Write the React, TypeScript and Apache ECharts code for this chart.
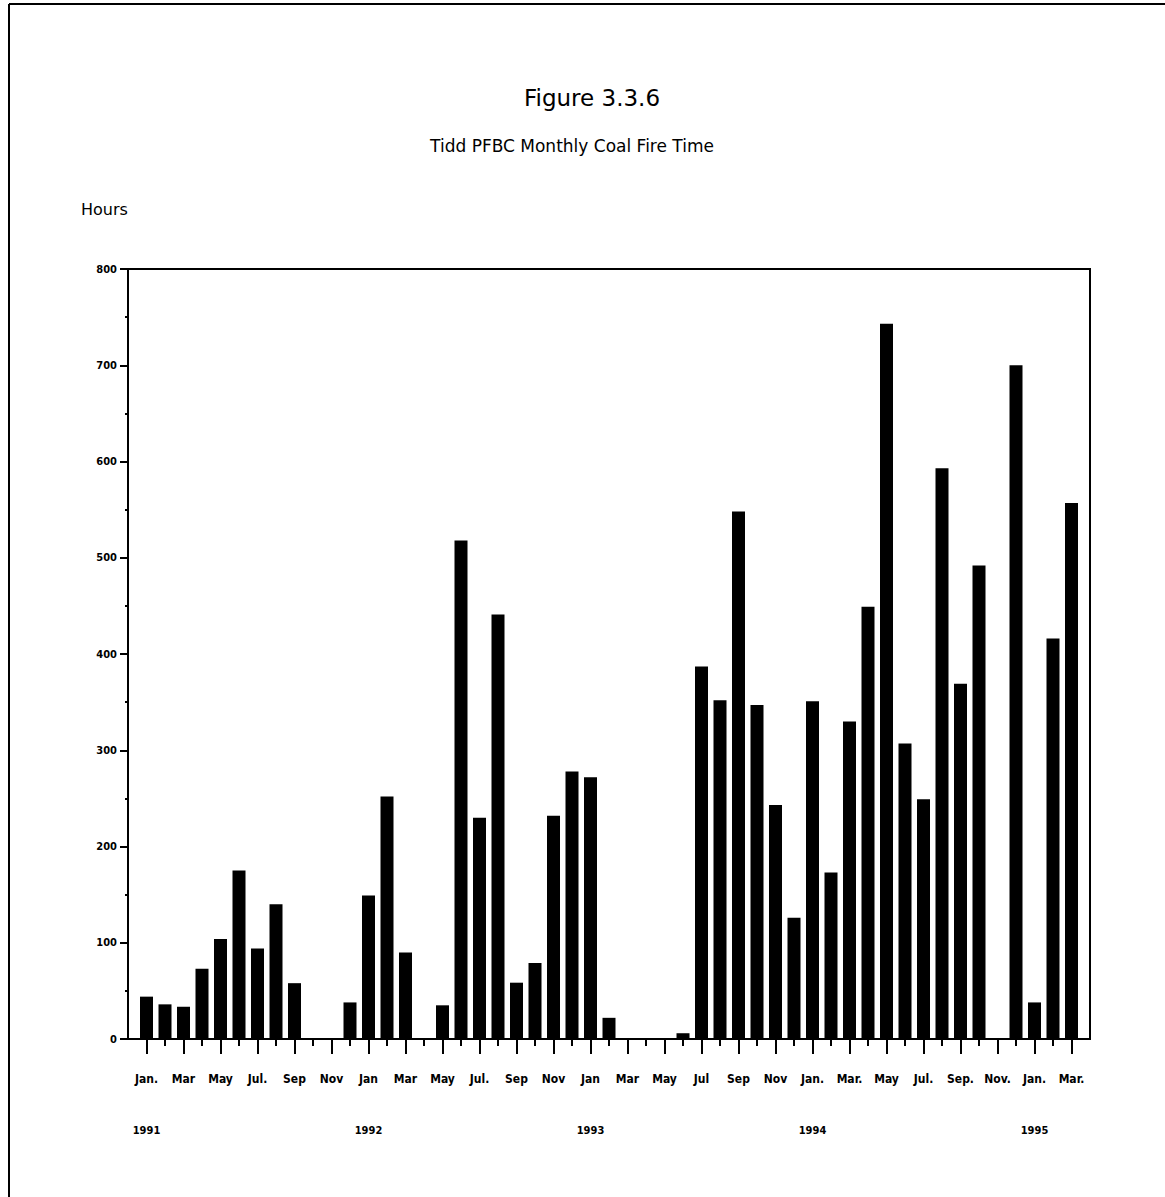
import { useEffect, useRef } from 'react';
import * as echarts from 'echarts';

// Months Jan 1991 .. Mar 1995 (51 months)
const categories = [
  '1991-01', '1991-02', '1991-03', '1991-04', '1991-05', '1991-06', '1991-07', '1991-08', '1991-09', '1991-10', '1991-11', '1991-12',
  '1992-01', '1992-02', '1992-03', '1992-04', '1992-05', '1992-06', '1992-07', '1992-08', '1992-09', '1992-10', '1992-11', '1992-12',
  '1993-01', '1993-02', '1993-03', '1993-04', '1993-05', '1993-06', '1993-07', '1993-08', '1993-09', '1993-10', '1993-11', '1993-12',
  '1994-01', '1994-02', '1994-03', '1994-04', '1994-05', '1994-06', '1994-07', '1994-08', '1994-09', '1994-10', '1994-11', '1994-12',
  '1995-01', '1995-02', '1995-03',
];

// Monthly coal fire time, hours
const hours = [
  44, 36, 33.5, 73, 104, 175, 94, 140, 58, 0, 0, 38,
  149, 252, 90, 0, 35, 518, 230, 441, 58.5, 79, 232, 278,
  272, 22, 0, 0, 0, 6, 387, 352, 548, 347, 243, 126,
  351, 173, 330, 449, 743, 307, 249, 593, 369, 492, 0, 700,
  38, 416, 557,
];

// Labels shown under every other month (Jan, Mar, May, ...)
const tickLabels = [
  'Jan.', 'Mar', 'May', 'Jul.', 'Sep', 'Nov',
  'Jan', 'Mar', 'May', 'Jul.', 'Sep', 'Nov',
  'Jan', 'Mar', 'May', 'Jul', 'Sep', 'Nov',
  'Jan.', 'Mar.', 'May', 'Jul.', 'Sep.', 'Nov.',
  'Jan.', 'Mar.',
];

const yearLabels = ['1991', '1992', '1993', '1994', '1995'];

const yTicks = [0, 100, 200, 300, 400, 500, 600, 700, 800];

const FONT = "'DejaVu Sans Condensed', 'Liberation Sans Narrow', 'DejaVu Sans', sans-serif";
const TITLE_FONT = "'DejaVu Sans', sans-serif";

export default function App() {
  const ref = useRef<HTMLDivElement>(null);

  useEffect(() => {
    const chart = echarts.init(ref.current!, null, { renderer: 'svg' });

    // pad one empty slot at each end so bars sit one step inside the frame
    const axisData = ['padStart', ...categories, 'padEnd'];
    const seriesData = ['-', ...hours, '-'];
    const n = categories.length;

    const isMonth = (i: number) => i >= 1 && i <= n;
    const isLabeled = (i: number) => isMonth(i) && (i - 1) % 2 === 0;
    const isJan = (i: number) => isMonth(i) && (i - 1) % 12 === 0;

    const monthLabel = (_v: string, i: number) => (isLabeled(i) ? tickLabels[(i - 1) / 2] : '');
    const yearLabel = (_v: string, i: number) => (isJan(i) ? yearLabels[(i - 1) / 12] : '');

    const baseX = {
      type: 'category' as const,
      data: axisData,
      boundaryGap: false,
      position: 'bottom' as const,
      gridIndex: 0,
      splitLine: { show: false },
    };

    chart.setOption({
      animation: false,
      backgroundColor: '#fff',
      textStyle: { fontFamily: FONT },
      grid: {
        left: 128,
        right: 75,
        top: 269,
        bottom: 158,
        show: true,
        borderColor: '#000',
        borderWidth: 2,
        backgroundColor: 'transparent',
      },
      graphic: [
        { type: 'line', shape: { x1: 9, y1: 4, x2: 1165, y2: 4 }, style: { stroke: '#000', lineWidth: 2 } },
        { type: 'line', shape: { x1: 9, y1: 4, x2: 9, y2: 1197 }, style: { stroke: '#000', lineWidth: 2 } },
        {
          type: 'text', x: 592, y: 98,
          style: { text: 'Figure 3.3.6', fontSize: 23, fontFamily: TITLE_FONT, fill: '#000', textAlign: 'center', textVerticalAlign: 'middle' },
        },
        {
          type: 'text', x: 572, y: 146,
          style: { text: 'Tidd PFBC Monthly Coal Fire Time', fontSize: 17, fontFamily: TITLE_FONT, fill: '#000', textAlign: 'center', textVerticalAlign: 'middle' },
        },
        {
          type: 'text', x: 81, y: 209,
          style: { text: 'Hours', fontSize: 16, fontFamily: TITLE_FONT, fill: '#000', textAlign: 'left', textVerticalAlign: 'middle' },
        },
      ],
      xAxis: [
        {
          ...baseX,
          axisLine: { show: true, lineStyle: { color: '#000', width: 2 } },
          axisTick: { show: true, length: 15, interval: (i: number) => isLabeled(i), lineStyle: { color: '#000', width: 2 } },
          axisLabel: {
            show: true, interval: 0, formatter: monthLabel, margin: 34,
            color: '#000', fontSize: 12, fontWeight: 'bold', fontFamily: FONT,
          },
        },
        {
          ...baseX,
          axisLine: { show: false },
          axisTick: { show: true, length: 7, interval: (i: number) => isMonth(i), lineStyle: { color: '#000', width: 2 } },
          axisLabel: { show: false },
        },
        {
          ...baseX,
          axisLine: { show: false },
          axisTick: { show: false },
          axisLabel: {
            show: true, interval: 0, formatter: yearLabel, margin: 86,
            color: '#000', fontSize: 11, fontWeight: 'bold', fontFamily: FONT,
          },
        },
      ],
      yAxis: {
        type: 'value',
        min: yTicks[0],
        max: yTicks[yTicks.length - 1],
        interval: 100,
        axisLine: { show: true, lineStyle: { color: '#000', width: 2 } },
        axisTick: { show: true, length: 8, lineStyle: { color: '#000', width: 2 } },
        minorTick: { show: true, splitNumber: 2, length: 3, lineStyle: { color: '#000', width: 2 } },
        splitLine: { show: false },
        axisLabel: { color: '#000', fontSize: 11, fontWeight: 'bold', margin: 11, fontFamily: FONT },
      },
      series: [
        {
          type: 'bar',
          xAxisIndex: 0,
          yAxisIndex: 0,
          data: seriesData,
          barWidth: 13,
          itemStyle: { color: '#000' },
        },
      ],
    });

    return () => chart.dispose();
  }, []);

  return (
    <div
      ref={ref}
      style={{ position: 'absolute', left: 0, top: 0, width: 1165, height: 1197, background: '#fff' }}
    />
  );
}
